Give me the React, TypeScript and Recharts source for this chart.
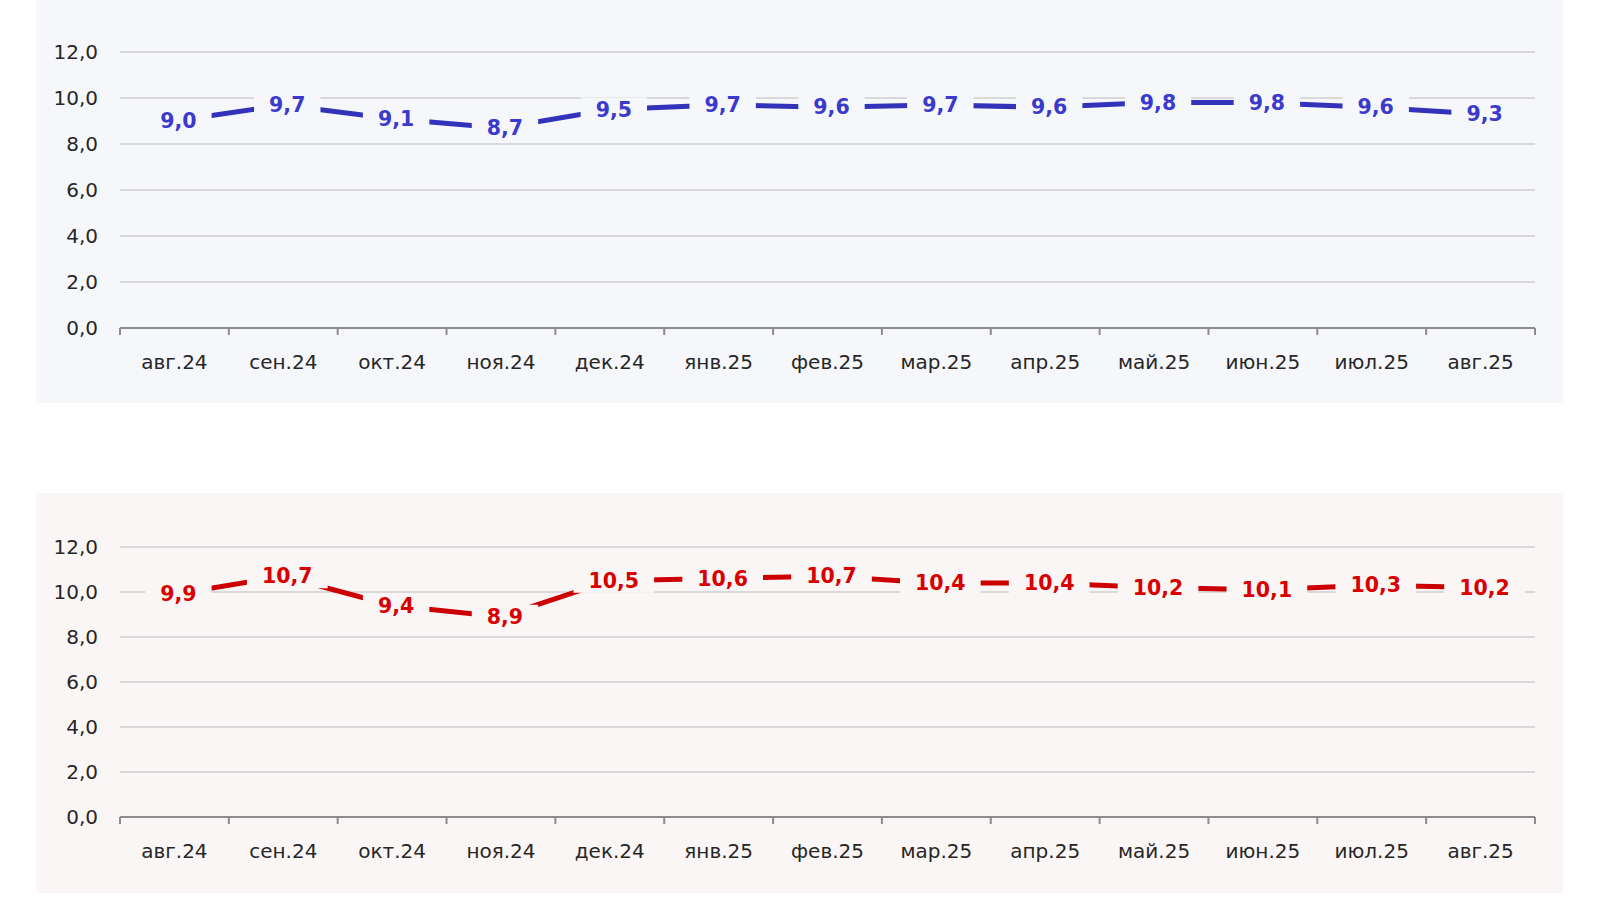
import React from "react";
import { CartesianGrid, LabelList, Line, LineChart, XAxis, YAxis } from "recharts";

const months = [
    "авг.24", "сен.24", "окт.24", "ноя.24", "дек.24", "янв.25", "фев.25",
    "мар.25", "апр.25", "май.25", "июн.25", "июл.25", "авг.25",
];
const blueValues = [9.0, 9.7, 9.1, 8.7, 9.5, 9.7, 9.6, 9.7, 9.6, 9.8, 9.8, 9.6, 9.3];
const redValues = [9.9, 10.7, 9.4, 8.9, 10.5, 10.6, 10.7, 10.4, 10.4, 10.2, 10.1, 10.3, 10.2];
const yTicks = [0, 2, 4, 6, 8, 10, 12];

const FONT = "'DejaVu Sans', Verdana, sans-serif";
const PANEL_W = 1527;
const PLOT_W = 1415;
const BAND = PLOT_W / months.length;

const fmt = (v: number) => v.toFixed(1).replace(".", ",");

const charW = (c: string) => (c === "," ? 7.8 : 14.3);

function makeLabel(color: string, bg: string) {
    return (props: any) => {
        const { x, y, value } = props;
        const s = fmt(Number(value));
        const w = s.split("").reduce((a, c) => a + charW(c), 0) + 30;
        return (
            <g>
                <rect x={x + 4 - w / 2} y={y - 12} width={w} height={24} fill={bg} />
                <text
                    x={x + 4}
                    y={y}
                    textAnchor="middle"
                    dominantBaseline="central"
                    fill={color}
                    fontFamily={FONT}
                    fontWeight="bold"
                    fontSize={20.5}
                >
                    {s}
                </text>
            </g>
        );
    };
}

function MonthTick(props: any) {
    const { x, y, payload, index } = props;
    const left = x - BAND / 2;
    return (
        <g>
            <line x1={left} y1={y} x2={left} y2={y + 7} stroke="#8c8c8c" strokeWidth={2} />
            {index === months.length - 1 && (
                <line x1={x + BAND / 2} y1={y} x2={x + BAND / 2} y2={y + 7} stroke="#8c8c8c" strokeWidth={2} />
            )}
            <text
                x={x}
                y={y + 34}
                textAnchor="middle"
                dominantBaseline="central"
                fill="#262626"
                fontFamily={FONT}
                fontSize={20}
            >
                {payload.value}
            </text>
        </g>
    );
}

type PanelProps = {
    values: number[];
    top: number;
    height: number;
    marginTop: number;
    axisHeight: number;
    bg: string;
    lineColor: string;
    labelColor: string;
};

function Panel({ values, top, height, marginTop, axisHeight, bg, lineColor, labelColor }: PanelProps) {
    const data = months.map((m, i) => ({ month: m, value: values[i] }));
    return (
        <div style={{ position: "absolute", left: 36, top, width: PANEL_W, height, background: bg }}>
            <LineChart
                width={PANEL_W}
                height={height}
                data={data}
                margin={{ top: marginTop, right: 28, bottom: 0, left: 0 }}
            >
                <CartesianGrid vertical={false} stroke="#d9d9d9" strokeWidth={2} />
                <XAxis
                    dataKey="month"
                    scale="band"
                    height={axisHeight}
                    interval={0}
                    tickLine={false}
                    tickSize={0}
                    tickMargin={0}
                    axisLine={{ stroke: "#8c8c8c", strokeWidth: 2 }}
                    tick={<MonthTick />}
                />
                <YAxis
                    width={84}
                    domain={[0, 12]}
                    ticks={yTicks}
                    axisLine={false}
                    tickLine={false}
                    tickSize={0}
                    tickMargin={22}
                    tickFormatter={fmt}
                    tick={{ fill: "#262626", fontFamily: FONT, fontSize: 20 }}
                />
                <Line
                    type="linear"
                    dataKey="value"
                    stroke={lineColor}
                    strokeWidth={5}
                    dot={false}
                    activeDot={false}
                    isAnimationActive={false}
                >
                    <LabelList dataKey="value" content={makeLabel(labelColor, bg)} />
                </Line>
            </LineChart>
        </div>
    );
}

export default function App() {
    return (
        <div style={{ position: "absolute", left: 0, top: 0, width: 1600, height: 900, background: "#ffffff" }}>
            <Panel
                values={blueValues}
                top={0}
                height={403}
                marginTop={52}
                axisHeight={75}
                bg="#f6f7fb"
                lineColor="#3232ba"
                labelColor="#3a3acc"
            />
            <Panel
                values={redValues}
                top={493}
                height={400}
                marginTop={54}
                axisHeight={76}
                bg="#fbf6f6"
                lineColor="#cc0000"
                labelColor="#d80000"
            />
        </div>
    );
}
